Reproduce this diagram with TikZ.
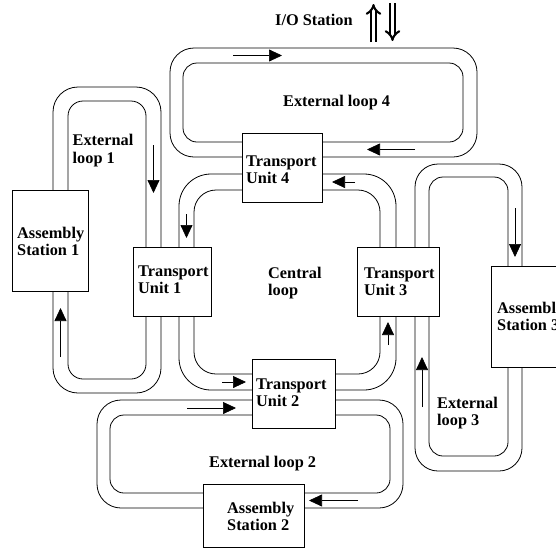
\documentclass[tikz,border=0pt]{standalone}
\usepackage{fontspec}
\setmainfont{Liberation Serif}
\usetikzlibrary{arrows.meta}
\begin{document}
\begin{tikzpicture}[x=1pt,y=-1pt,
  track/.style={line width=0.8pt, rounded corners=#1},
  box/.style={draw, fill=white, line width=0.9pt, anchor=north west, inner sep=0pt, outer sep=0pt},
  lbl/.style={anchor=base west, inner sep=0pt, font=\fontsize{16.3}{17.5}\selectfont\bfseries},
  flow/.style={line width=0.7pt, -{Triangle[length=13pt,width=12pt]}},
  io/.style={double, double distance=3pt, line width=2.1pt, -{Implies}}
]
\useasboundingbox (0,0) rectangle (556,552);
\clip (0,0) rectangle (556,552);

% tracks: external loop 4
\draw[track=24] (170,48) rectangle (477,157);
\draw[track=14] (183,63) rectangle (463,142);
% external loop 1
\draw[track=25] (53,87) rectangle (161,393);
\draw[track=15] (68,101) rectangle (146,379);
% central loop
\draw[track=32] (179,174) rectangle (396,390);
\draw[track=22] (194,190) rectangle (380,374);
% external loop 3
\draw[track=23] (415,164) rectangle (522,471);
\draw[track=14] (429,177) rectangle (508,456);
% external loop 2
\draw[track=24] (97,400) rectangle (403,508);
\draw[track=14] (110,415) rectangle (390,493);

% boxes
\node[box, minimum width=80pt, minimum height=69pt] (tu4) at (242,133) {};
\node[box, minimum width=78pt, minimum height=69pt] (tu1) at (133,247) {};
\node[box, minimum width=82pt, minimum height=69pt] (tu3) at (357,247) {};
\node[box, minimum width=83pt, minimum height=69pt] (tu2) at (252,359) {};
\node[box, minimum width=76pt, minimum height=101pt] (as1) at (12,190) {};
\node[box, minimum width=101pt, minimum height=63pt] (as2) at (203,484) {};
\node[box, minimum width=80pt, minimum height=101pt] (as3) at (491,266) {};

% labels
\node[lbl] (tio) at (275,25) {I/O Station};
\node[lbl] (tel4) at (283,106) {External loop 4};
\node[lbl] (tel1) at (72.5,145.5) {\begin{tabular}[t]{@{}l@{}}External\\loop 1\end{tabular}};
\node[lbl] (ttu4) at (246,166) {\begin{tabular}[t]{@{}l@{}}Transport\\Unit 4\end{tabular}};
\node[lbl] (tas1) at (17,238) {\begin{tabular}[t]{@{}l@{}}Assembly\\Station 1\end{tabular}};
\node[lbl] (ttu1) at (138,276) {\begin{tabular}[t]{@{}l@{}}Transport\\Unit 1\end{tabular}};
\node[lbl] (tcl) at (268,278) {\begin{tabular}[t]{@{}l@{}}Central\\loop\end{tabular}};
\node[lbl] (ttu3) at (364,278) {\begin{tabular}[t]{@{}l@{}}Transport\\Unit 3\end{tabular}};
\node[lbl] (tas3) at (497,313) {\begin{tabular}[t]{@{}l@{}}Assembly\\Station 3\end{tabular}};
\node[lbl] (ttu2) at (256,389) {\begin{tabular}[t]{@{}l@{}}Transport\\Unit 2\end{tabular}};
\node[lbl] (tel3) at (437,408) {\begin{tabular}[t]{@{}l@{}}External\\loop 3\end{tabular}};
\node[lbl] (tel2) at (209,467) {External loop 2};
\node[lbl] (tas2) at (227,513) {\begin{tabular}[t]{@{}l@{}}Assembly\\Station 2\end{tabular}};

% flow arrows
\coordinate (a1s) at (233,55.5);  \coordinate (a1e) at (282,55.5);
\coordinate (a2s) at (415,149.5); \coordinate (a2e) at (367,149.5);
\coordinate (a3s) at (355,182);   \coordinate (a3e) at (332,182);
\coordinate (a4s) at (153.5,145); \coordinate (a4e) at (153.5,193);
\coordinate (a5s) at (60.5,357);  \coordinate (a5e) at (60.5,308);
\coordinate (a6s) at (186.5,214); \coordinate (a6e) at (186.5,238);
\coordinate (a7s) at (222,382);   \coordinate (a7e) at (246,382);
\coordinate (a8s) at (187,408);   \coordinate (a8e) at (236,408);
\coordinate (a9s) at (358,500.5); \coordinate (a9e) at (309,500.5);
\coordinate (a10s) at (388,345);  \coordinate (a10e) at (388,322);
\coordinate (a11s) at (422,407);  \coordinate (a11e) at (422,357);
\coordinate (a12s) at (515,208);  \coordinate (a12e) at (515,257);
\foreach \i in {1,...,12} { \draw[flow] (a\i s) -- (a\i e); }

% I/O arrows
\coordinate (ious) at (373.5,42); \coordinate (ioue) at (373.5,4);
\coordinate (iods) at (392.5,3);  \coordinate (iode) at (392.5,41);
\draw[io] (ious) -- (ioue);
\draw[io] (iods) -- (iode);
\end{tikzpicture}
\end{document}
